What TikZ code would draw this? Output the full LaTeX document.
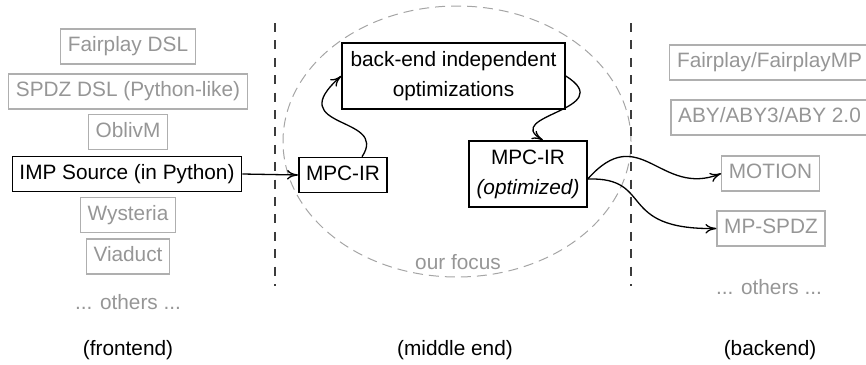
\documentclass[tikz,border=0pt]{standalone}
\usepackage{fontspec}
\setmainfont{Liberation Sans}
\usetikzlibrary{arrows.meta,shapes.geometric}
\definecolor{tgray}{RGB}{150,150,150}
\definecolor{bgray}{RGB}{175,175,175}
\definecolor{dgray}{RGB}{60,60,60}
\definecolor{egray}{RGB}{165,165,165}
\begin{document}
\begin{tikzpicture}[x=0.5pt,y=-0.5pt, font=\fontsize{10.4}{15}\selectfont,
 gbox/.style={draw=bgray, text=tgray, line width=0.6pt, inner xsep=3.6pt, inner ysep=0pt, minimum height=17.5pt, text height=7.5pt, text depth=2.2pt},
 bbox/.style={draw=black, line width=0.75pt, inner xsep=3.6pt, inner ysep=0pt, minimum height=17.5pt, text height=7.5pt, text depth=2.2pt},
 tbox/.style={draw=black, line width=0.75pt, align=center, inner sep=0pt, minimum height=33pt},
 gtext/.style={text=tgray, inner sep=0pt},
 ltext/.style={text=black, inner sep=0pt},
 flow/.style={line width=0.65pt, -{To[length=5.5pt,width=4.8pt]}},
 sepline/.style={draw=dgray, line width=1pt, dash pattern=on 4.5pt off 4.2pt},
]
\useasboundingbox (0,0) rectangle (866,364);

% focus ellipse
\node[ellipse, draw=egray, line width=0.5pt, dash pattern=on 5pt off 3pt,
      minimum width=174pt, minimum height=135.5pt, inner sep=0pt] (focus) at (457,141.5) {};
\node[gtext] (focuslbl) at (458,262) {our focus};

% separators
\coordinate (s1t) at (275,23);
\coordinate (s1b) at (275,286);
\coordinate (s2t) at (631,23);
\coordinate (s2b) at (631,286);
\draw[sepline] (s1t) -- (s1b);
\draw[sepline] (s2t) -- (s2b);

% frontend
\node[gbox] (fp)   at (128,46.5) {Fairplay DSL};
\node[gbox] (spdz) at (128,91.5) {SPDZ DSL (Python-like)};
\node[gbox] (obl)  at (128,132)  {OblivM};
\node[bbox] (imp)  at (127,174)  {IMP Source (in Python)};
\node[gbox] (wys)  at (128,215)  {Wysteria};
\node[gbox] (via)  at (128,256.5) {Viaduct};
\node[gtext] (oth1) at (128,302) {... others ...};
\node[ltext] (fe)  at (128,350) {(frontend)};

% middle end
\node[tbox, minimum width=111.5pt] (be) at (453.5,76) {back-end independent\\optimizations};
\node[bbox] (ir1) at (343,175) {MPC-IR};
\node[tbox, minimum width=59pt] (ir2) at (528,174) {MPC-IR\\\textit{(optimized)}};
\node[ltext] (me) at (455,350) {(middle end)};

% backend
\node[gbox] (fpmp)   at (769.5,62.5) {Fairplay/FairplayMP};
\node[gbox] (aby)    at (769.5,117.5) {ABY/ABY3/ABY 2.0};
\node[gbox] (motion) at (770.5,173.5) {MOTION};
\node[gbox] (mpspdz) at (771,228.5) {MP-SPDZ};
\node[gtext] (oth2)  at (769,287) {... others ...};
\node[ltext] (bk)    at (770,350) {(backend)};

% connectors
\draw[flow] (imp.east) -- (ir1.west);
\draw[flow] ([xshift=9.5pt]ir1.north) .. controls (390,115) and (280,130) .. (be.west);
\draw[flow] (be.east) .. controls (620,110) and (500,115) .. ([xshift=7.5pt]ir2.north);
\coordinate (ir2o) at ([yshift=-2.5pt]ir2.east);
\draw[flow] (ir2o) .. controls (640,120) and (660,198) .. (motion.west);
\draw[flow] (ir2o) .. controls (655,177) and (615,230) .. (mpspdz.west);
\end{tikzpicture}
\end{document}
